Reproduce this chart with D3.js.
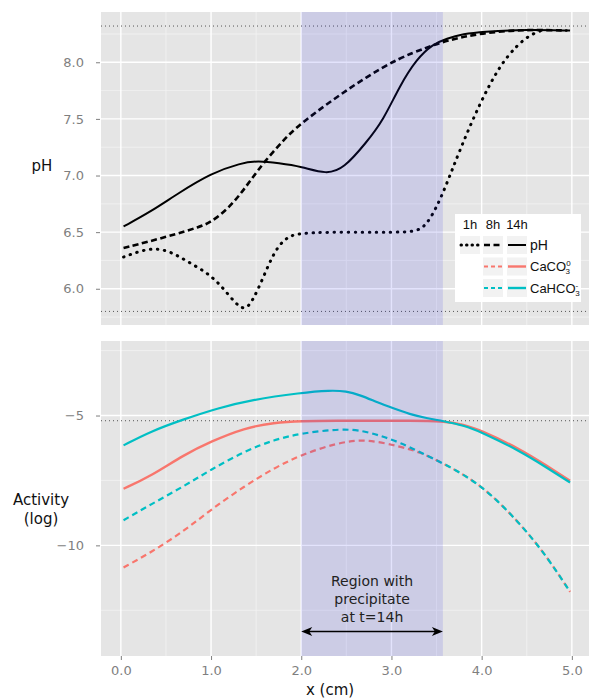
<!DOCTYPE html>
<html>
<head>
<meta charset="utf-8">
<script src="https://cdn.jsdelivr.net/npm/d3@7"></script>
<style>
  body { margin: 0; background: #fff; }
  svg { display: block; }
</style>
</head>
<body>
<svg width="589" height="700"></svg>
<script>
// pH profiles, [x (cm), pH]
var ph1h = [[0.03,6.28],[0.2,6.33],[0.37,6.36],[0.55,6.33],[0.74,6.24],[0.96,6.14],[1.11,6.03],[1.26,5.88],[1.35,5.82],[1.42,5.84],[1.52,5.99],[1.63,6.2],[1.74,6.38],[1.87,6.47],[2.0,6.49],[2.3,6.5],[2.7,6.5],[3.0,6.5],[3.25,6.5],[3.38,6.55],[3.5,6.72],[3.6,6.9],[3.76,7.23],[3.98,7.64],[4.2,7.97],[4.39,8.15],[4.55,8.25],[4.7,8.29]];
var ph8h = [[0.03,6.36],[0.52,6.46],[0.89,6.55],[1.0,6.59],[1.18,6.7],[1.33,6.84],[1.44,6.96],[1.59,7.12],[1.81,7.32],[1.98,7.45],[2.35,7.67],[2.72,7.87],[3.09,8.04],[3.39,8.13],[3.6,8.19],[4.0,8.26],[4.5,8.29],[4.95,8.28]];
var ph14h = [[0.03,6.55],[0.33,6.68],[0.63,6.84],[1.0,7.02],[1.33,7.11],[1.52,7.13],[1.75,7.11],[2.0,7.08],[2.28,7.01],[2.47,7.06],[2.72,7.29],[2.91,7.49],[3.09,7.79],[3.28,8.03],[3.46,8.16],[3.61,8.21],[3.8,8.25],[4.0,8.27],[4.5,8.29],[4.98,8.28]];

// log activities, [x (cm), log a]
var caco3_8h = [[0.03,-10.85],[0.33,-10.28],[0.7,-9.45],[1.0,-8.62],[1.37,-7.72],[1.7,-7.02],[2.0,-6.51],[2.4,-6.05],[2.72,-5.9],[3.09,-6.19],[3.31,-6.4],[3.57,-6.83],[4.0,-7.66],[4.42,-9.13],[4.72,-10.41],[4.98,-11.79]];
var caco3_14h = [[0.03,-7.82],[0.33,-7.34],[0.7,-6.51],[1.0,-6.0],[1.37,-5.48],[1.7,-5.27],[2.0,-5.21],[2.4,-5.2],[2.8,-5.2],[3.2,-5.2],[3.57,-5.21],[3.8,-5.35],[4.0,-5.58],[4.42,-6.28],[4.72,-6.93],[4.98,-7.51]];
var cahco3_8h = [[0.03,-9.03],[0.33,-8.43],[0.7,-7.72],[1.0,-7.08],[1.37,-6.38],[1.7,-5.93],[2.0,-5.68],[2.46,-5.5],[2.7,-5.6],[2.9,-5.8],[3.1,-6.05],[3.31,-6.4],[3.57,-6.83],[4.0,-7.66],[4.42,-9.13],[4.72,-10.41],[4.98,-11.79]];
var cahco3_14h = [[0.03,-6.15],[0.33,-5.61],[0.7,-5.14],[1.07,-4.72],[1.44,-4.4],[2.0,-4.12],[2.32,-4.03],[2.5,-4.06],[2.65,-4.21],[2.85,-4.5],[3.02,-4.72],[3.2,-4.95],[3.39,-5.1],[3.57,-5.21],[3.8,-5.38],[4.0,-5.64],[4.42,-6.36],[4.72,-7.0],[4.98,-7.58]];

var xTicks = [0, 1, 2, 3, 4, 5];
var xMinor = [0.5, 1.5, 2.5, 3.5, 4.5];
var phTicks = [6.0, 6.5, 7.0, 7.5, 8.0];
var phMinor = [5.75, 6.25, 6.75, 7.25, 7.75, 8.25];
var actTicks = [-5, -10];
var actMinor = [-2.5, -7.5, -12.5];
var phLimits = [5.8, 8.32];
var actLimit = [-5.2];
var precipitate = [2.0, 3.57];

var red = "#F8766D", cyan = "#00BFC4";
var dotted = "0.5,6.5", dashed = "6,3.5";

var svg = d3.select("svg");
var left = 101, right = 589;

var x = d3.scaleLinear().domain([-0.22, 5.19]).range([left, right]);
var yTop = d3.scaleLinear().domain([5.68, 8.444]).range([325, 12]);
var yBot = d3.scaleLinear().domain([-14.26, -2.13]).range([656, 341]);

function panel(y, major, minor, ticks, fmt) {
    var r = y.range();
    var g = svg.append("g");
    g.append("rect")
        .attr("x", left).attr("y", r[1])
        .attr("width", right - left).attr("height", r[0] - r[1])
        .attr("fill", "#e5e5e5");
    g.selectAll(".vmin").data(xMinor).enter().append("line")
        .attr("x1", x).attr("x2", x).attr("y1", r[1]).attr("y2", r[0])
        .attr("stroke", "#f2f2f2").attr("stroke-width", 0.8);
    g.selectAll(".hmin").data(minor).enter().append("line")
        .attr("x1", left).attr("x2", right).attr("y1", y).attr("y2", y)
        .attr("stroke", "#f2f2f2").attr("stroke-width", 0.8);
    g.selectAll(".vmaj").data(xTicks).enter().append("line")
        .attr("x1", x).attr("x2", x).attr("y1", r[1]).attr("y2", r[0])
        .attr("stroke", "#fff").attr("stroke-width", 1.4);
    g.selectAll(".hmaj").data(major).enter().append("line")
        .attr("x1", left).attr("x2", right).attr("y1", y).attr("y2", y)
        .attr("stroke", "#fff").attr("stroke-width", 1.4);

    var ax = svg.append("g")
        .attr("transform", "translate(" + (left - 1) + ",0)")
        .call(d3.axisLeft(y).tickValues(ticks).tickFormat(fmt).tickSize(4).tickPadding(12));
    ax.select(".domain").remove();
    ax.selectAll("line").attr("stroke", "#7f7f7f");
    ax.selectAll("text").attr("fill", "#7f7f7f")
        .style("font-family", "'DejaVu Sans', sans-serif").style("font-size", "13px");
}

// precipitate band, laid over the curves
function band(y) {
    var r = y.range();
    svg.append("rect")
        .attr("x", x(precipitate[0])).attr("y", r[1])
        .attr("width", x(precipitate[1]) - x(precipitate[0])).attr("height", r[0] - r[1])
        .attr("fill", "rgb(40,40,235)").attr("fill-opacity", 0.13);
}

panel(yTop, phTicks, phMinor, phTicks, d3.format(".1f"));
panel(yBot, actTicks, actMinor, actTicks, d3.format("d"));

// reference limits
svg.selectAll(".phlim").data(phLimits).enter().append("line")
    .attr("x1", left).attr("x2", right)
    .attr("y1", function(d){ return yTop(d); }).attr("y2", function(d){ return yTop(d); })
    .attr("stroke", "#555").attr("stroke-width", 1).attr("stroke-dasharray", "1,3");
svg.selectAll(".actlim").data(actLimit).enter().append("line")
    .attr("x1", left).attr("x2", right)
    .attr("y1", function(d){ return yBot(d); }).attr("y2", function(d){ return yBot(d); })
    .attr("stroke", "#555").attr("stroke-width", 1).attr("stroke-dasharray", "1,3");

function draw(data, y, color, width, dash) {
    var line = d3.line()
        .x(function(d){ return x(d[0]); })
        .y(function(d){ return y(d[1]); })
        .curve(d3.curveBasis);
    svg.append("path")
        .datum(data)
        .attr("d", line)
        .attr("fill", "none")
        .attr("stroke", color)
        .attr("stroke-width", width)
        .attr("stroke-linecap", dash == dotted ? "round" : "butt")
        .attr("stroke-dasharray", dash);
}

draw(ph1h, yTop, "#000", 3, dotted);
draw(ph8h, yTop, "#000", 2.6, dashed);
draw(ph14h, yTop, "#000", 2, null);

draw(caco3_8h, yBot, red, 2.2, "6,4");
draw(cahco3_8h, yBot, cyan, 2.2, "6,4");
draw(caco3_14h, yBot, red, 2.4, null);
draw(cahco3_14h, yBot, cyan, 2.2, null);

band(yTop);
band(yBot);

// x axis
var xa = svg.append("g")
    .attr("transform", "translate(0,656)")
    .call(d3.axisBottom(x).tickValues(xTicks).tickFormat(d3.format(".1f")).tickSize(4).tickPadding(6));
xa.select(".domain").remove();
xa.selectAll("line").attr("stroke", "#7f7f7f");
xa.selectAll("text").attr("fill", "#7f7f7f")
    .style("font-family", "'DejaVu Sans', sans-serif").style("font-size", "13px");

var font = "'DejaVu Sans', sans-serif";
svg.append("text").attr("x", 330).attr("y", 695).attr("text-anchor", "middle")
    .style("font-family", font).style("font-size", "15px").attr("fill", "#111").text("x (cm)");
svg.append("text").attr("x", 42).attr("y", 171).attr("text-anchor", "middle")
    .style("font-family", font).style("font-size", "15px").attr("fill", "#111").text("pH");
svg.append("text").attr("x", 41).attr("y", 505).attr("text-anchor", "middle")
    .style("font-family", font).style("font-size", "15px").attr("fill", "#111").text("Activity");
svg.append("text").attr("x", 41).attr("y", 524).attr("text-anchor", "middle")
    .style("font-family", font).style("font-size", "15px").attr("fill", "#111").text("(log)");

// annotation
var mid = (x(precipitate[0]) + x(precipitate[1])) / 2;
svg.selectAll(".note").data(["Region with", "precipitate", "at t=14h"]).enter().append("text")
    .attr("x", mid).attr("y", function(d, i){ return 586 + i * 18; })
    .attr("text-anchor", "middle")
    .style("font-family", font).style("font-size", "14px").attr("fill", "#222")
    .text(function(d){ return d; });

var ay = 631.5, a0 = x(precipitate[0]), a1 = x(precipitate[1]);
svg.append("line").attr("x1", a0 + 6).attr("x2", a1 - 6).attr("y1", ay).attr("y2", ay)
    .attr("stroke", "#000").attr("stroke-width", 1.3);
svg.append("path").attr("d", "M" + a0 + "," + ay + "l11,-4.5l-3,4.5l3,4.5z").attr("fill", "#000");
svg.append("path").attr("d", "M" + a1 + "," + ay + "l-11,-4.5l3,4.5l-3,4.5z").attr("fill", "#000");

// legend
var lg = svg.append("g").attr("transform", "translate(455,214)");
lg.append("rect").attr("width", 126).attr("height", 88).attr("fill", "#fff");
var cols = [15, 38, 62];
var hdr = ["1h", "8h", "14h"];
var lf = "'Liberation Sans', Arial, sans-serif";
lg.selectAll(".hdr").data(hdr).enter().append("text")
    .attr("x", function(d, i){ return cols[i]; }).attr("y", 15)
    .attr("text-anchor", "middle")
    .style("font-family", lf).style("font-size", "13px")
    .attr("fill", "#111").text(function(d){ return d; });

var rows = [
    { y: 31, color: "#000", keys: [[0, 3, dotted], [1, 2.6, dashed], [2, 2, null]] },
    { y: 52.5, color: red, keys: [[1, 2.2, "4,3"], [2, 2.4, null]] },
    { y: 74, color: cyan, keys: [[1, 2.2, "4,3"], [2, 2.4, null]] }
];
rows.forEach(function(r) {
    r.keys.forEach(function(k) {
        var cx = cols[k[0]];
        lg.append("rect").attr("x", cx - 10).attr("y", r.y - 9).attr("width", 20).attr("height", 18)
            .attr("fill", "#f2f2f2");
        lg.append("line").attr("x1", cx - 9).attr("x2", cx + 9).attr("y1", r.y).attr("y2", r.y)
            .attr("stroke", r.color).attr("stroke-width", k[1])
            .attr("stroke-linecap", k[2] == dotted ? "round" : "butt")
            .attr("stroke-dasharray", k[2] == dotted ? "0.5,5" : k[2]);
    });
});

lg.append("text").attr("x", 75).attr("y", 36).style("font-family", lf).style("font-size", "14px")
    .attr("fill", "#111").text("pH");
var t1 = lg.append("text").attr("x", 75).attr("y", 57).style("font-family", lf).style("font-size", "13px").attr("fill", "#111");
t1.append("tspan").text("CaCO");
t1.append("tspan").attr("dy", -5).style("font-size", "8px").text("0");
t1.append("tspan").attr("dx", -5).attr("dy", 8).style("font-size", "8px").text("3");
var t2 = lg.append("text").attr("x", 75).attr("y", 78.5).style("font-family", lf).style("font-size", "13px").attr("fill", "#111");
t2.append("tspan").text("CaHCO");
t2.append("tspan").attr("dy", -5).style("font-size", "8px").text("-");
t2.append("tspan").attr("dx", -3).attr("dy", 8).style("font-size", "8px").text("3");
</script>
</body>
</html>
